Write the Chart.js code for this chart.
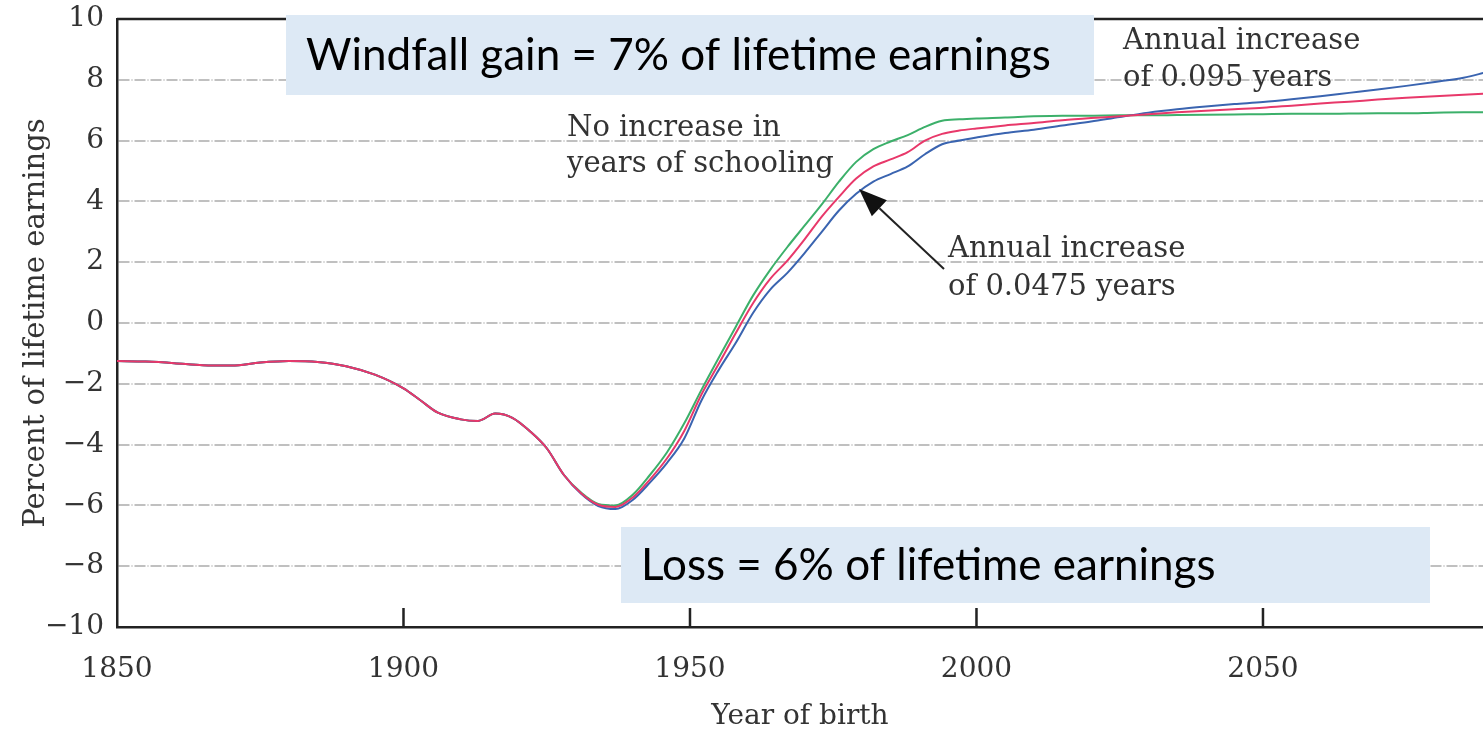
<!DOCTYPE html>
<html>
<head>
<meta charset="utf-8">
<script src="https://cdn.jsdelivr.net/npm/chart.js@4/dist/chart.umd.min.js"></script>
<style>
  body { margin: 0; background: #fff; }
  #wrap { width: 1483px; height: 731px; }
</style>
</head>
<body>
<div id="wrap"><canvas id="windfallChart"></canvas></div>
<script>
// year of birth
const years = [1850, 1855, 1860, 1865, 1870, 1875, 1880, 1885, 1890, 1895,
    1900, 1903, 1906, 1910, 1913, 1916, 1919, 1922, 1925, 1928,
    1931, 1934, 1937, 1940, 1943, 1946, 1949, 1952, 1955, 1958,
    1961, 1964, 1967, 1970, 1973, 1976, 1979, 1982, 1985, 1988,
    1991, 1994, 1997, 2000, 2005, 2010, 2015, 2020, 2025, 2030,
    2035, 2040, 2045, 2050, 2055, 2060, 2065, 2070, 2075, 2080,
    2085, 2089];

// percent of lifetime earnings
const noIncrease = [-1.25, -1.27, -1.32, -1.39, -1.40, -1.30, -1.25, -1.28, -1.42, -1.70,
    -2.15, -2.55, -2.95, -3.17, -3.22, -2.98, -3.12, -3.55, -4.12, -5.00,
    -5.58, -5.95, -6.00, -5.65, -5.00, -4.25, -3.30, -2.20, -1.15, -0.12,
    0.90, 1.75, 2.50, 3.20, 3.90, 4.65, 5.30, 5.72, 5.97, 6.18,
    6.45, 6.65, 6.70, 6.73, 6.76, 6.80, 6.82, 6.82, 6.83, 6.83,
    6.84, 6.85, 6.86, 6.87, 6.88, 6.88, 6.89, 6.90, 6.90, 6.92,
    6.93, 6.93];

const increase0475 = [-1.25, -1.27, -1.32, -1.39, -1.40, -1.30, -1.25, -1.28, -1.42, -1.70,
    -2.15, -2.55, -2.95, -3.17, -3.22, -2.98, -3.12, -3.55, -4.12, -5.00,
    -5.60, -5.98, -6.05, -5.74, -5.15, -4.45, -3.55, -2.35, -1.35, -0.33,
    0.65, 1.45, 2.05, 2.75, 3.50, 4.15, 4.75, 5.15, 5.38, 5.62,
    6.00, 6.22, 6.33, 6.40, 6.50, 6.58, 6.67, 6.74, 6.80, 6.87,
    6.93, 6.98, 7.03, 7.08, 7.15, 7.22, 7.28, 7.35, 7.41, 7.46,
    7.51, 7.55];

const increase095 = [-1.25, -1.27, -1.32, -1.39, -1.40, -1.30, -1.25, -1.28, -1.42, -1.70,
    -2.15, -2.55, -2.95, -3.17, -3.22, -2.98, -3.12, -3.55, -4.12, -5.00,
    -5.62, -6.02, -6.12, -5.82, -5.25, -4.60, -3.80, -2.55, -1.55, -0.65,
    0.33, 1.10, 1.65, 2.30, 3.00, 3.70, 4.25, 4.65, 4.90, 5.15,
    5.55, 5.88, 6.00, 6.10, 6.25, 6.36, 6.50, 6.63, 6.78, 6.92,
    7.03, 7.12, 7.20, 7.27, 7.36, 7.46, 7.57, 7.68, 7.80, 7.93,
    8.07, 8.25];

const xTickYears = [1850, 1900, 1950, 2000, 2050];

const serif = '"DejaVu Serif", serif';
const textColor = '#333';

function toPoints(values) {
    return years.map((y, i) => ({ x: y, y: values[i] }));
}

// frame, inward x ticks, notes, boxes and arrow
const notesPlugin = {
    id: 'notes',
    beforeDatasetsDraw(chart) {
        const { ctx, chartArea, scales } = chart;
        ctx.save();
        ctx.strokeStyle = '#222';
        ctx.lineWidth = 2.5;
        ctx.beginPath();
        ctx.moveTo(chartArea.left, chartArea.top);
        ctx.lineTo(chartArea.right, chartArea.top);
        xTickYears.slice(1).forEach(v => {
            const px = scales.x.getPixelForValue(v);
            ctx.moveTo(px, chartArea.bottom);
            ctx.lineTo(px, chartArea.bottom - 19);
        });
        ctx.stroke();
        ctx.restore();
    },
    afterDatasetsDraw(chart) {
        const { ctx } = chart;
        ctx.save();

        // shaded boxes
        ctx.fillStyle = '#dde9f5';
        ctx.fillRect(286, 15, 808, 80);
        ctx.fillRect(621, 527, 809, 76);
        ctx.fillStyle = '#000';
        ctx.textBaseline = 'alphabetic';
        ctx.textAlign = 'left';
        ctx.font = '44px Lato, sans-serif';
        ctx.fillText('Windfall gain = 7% of lifetime earnings', 306, 70);
        ctx.fillText('Loss = 6% of lifetime earnings', 641, 580);

        // curve notes
        ctx.fillStyle = textColor;
        ctx.font = '29px ' + serif;
        ctx.fillText('No increase in', 567, 136);
        ctx.fillText('years of schooling', 567, 172);
        ctx.fillText('Annual increase', 1123, 49);
        ctx.fillText('of 0.095 years', 1123, 86);
        ctx.fillText('Annual increase', 948, 257);
        ctx.fillText('of 0.0475 years', 948, 295);

        // arrow
        const tail = [944, 269], tip = [859, 189];
        const ang = Math.atan2(tip[1] - tail[1], tip[0] - tail[0]);
        const headLen = 28, headW = 11;
        const bx = tip[0] - headLen * Math.cos(ang), by = tip[1] - headLen * Math.sin(ang);
        ctx.strokeStyle = '#222';
        ctx.lineWidth = 2;
        ctx.beginPath();
        ctx.moveTo(tail[0], tail[1]);
        ctx.lineTo(bx, by);
        ctx.stroke();
        ctx.fillStyle = '#111';
        ctx.beginPath();
        ctx.moveTo(tip[0], tip[1]);
        ctx.lineTo(bx + headW * Math.sin(ang), by - headW * Math.cos(ang));
        ctx.lineTo(bx - headW * Math.sin(ang), by + headW * Math.cos(ang));
        ctx.closePath();
        ctx.fill();
        ctx.restore();
    }
};

const ctx = document.getElementById('windfallChart').getContext('2d');
const windfallChart = new Chart(ctx, {
    type: 'line',
    data: {
        datasets: [
            { label: 'Annual increase of 0.0475 years', data: toPoints(increase0475), borderColor: '#e8386a', order: 0 },
            { label: 'Annual increase of 0.095 years', data: toPoints(increase095), borderColor: '#3a64b0', order: 1 },
            { label: 'No increase in years of schooling', data: toPoints(noIncrease), borderColor: '#3cb06a', order: 2 }
        ]
    },
    options: {
        responsive: true,
        maintainAspectRatio: false,
        animation: false,
        layout: { padding: { top: 19, right: 0, left: 0, bottom: 0 } },
        elements: {
            line: { borderWidth: 2, cubicInterpolationMode: 'monotone' },
            point: { radius: 0 }
        },
        plugins: {
            legend: { display: false },
            tooltip: { enabled: false }
        },
        scales: {
            x: {
                type: 'linear',
                min: 1850,
                max: 2088.4,
                afterFit: s => { s.height = 104; },
                afterBuildTicks: s => { s.ticks = xTickYears.map(v => ({ value: v })); },
                grid: { display: false, drawTicks: false },
                border: { color: '#222', width: 2.5 },
                ticks: {
                    color: textColor,
                    font: { family: serif, size: 28 },
                    padding: 26,
                    maxRotation: 0,
                    callback: v => String(v)
                },
                title: { display: true, text: 'Year of birth', color: textColor, font: { family: serif, size: 28 }, padding: { top: 0, bottom: -3 } }
            },
            y: {
                min: -10,
                max: 10,
                afterFit: s => { s.width = 117; s.paddingTop = 0; s.paddingBottom = 0; },
                grid: {
                    drawTicks: false,
                    lineWidth: 2,
                    color: c => (Math.abs(c.tick.value) === 10 ? 'rgba(0,0,0,0)' : '#c0c0c0')
                },
                border: { color: '#222', width: 2.5, dash: [11, 2, 1, 2] },
                ticks: {
                    stepSize: 2,
                    color: textColor,
                    font: { family: serif, size: 28 },
                    padding: 13,
                    callback: v => (v < 0 ? '\u2212' + Math.abs(v) : String(v))
                },
                title: { display: true, text: 'Percent of lifetime earnings', color: textColor, font: { family: serif, size: 29 }, padding: { top: 19, bottom: 0 } }
            }
        }
    },
    plugins: [notesPlugin]
});
</script>
</body>
</html>
